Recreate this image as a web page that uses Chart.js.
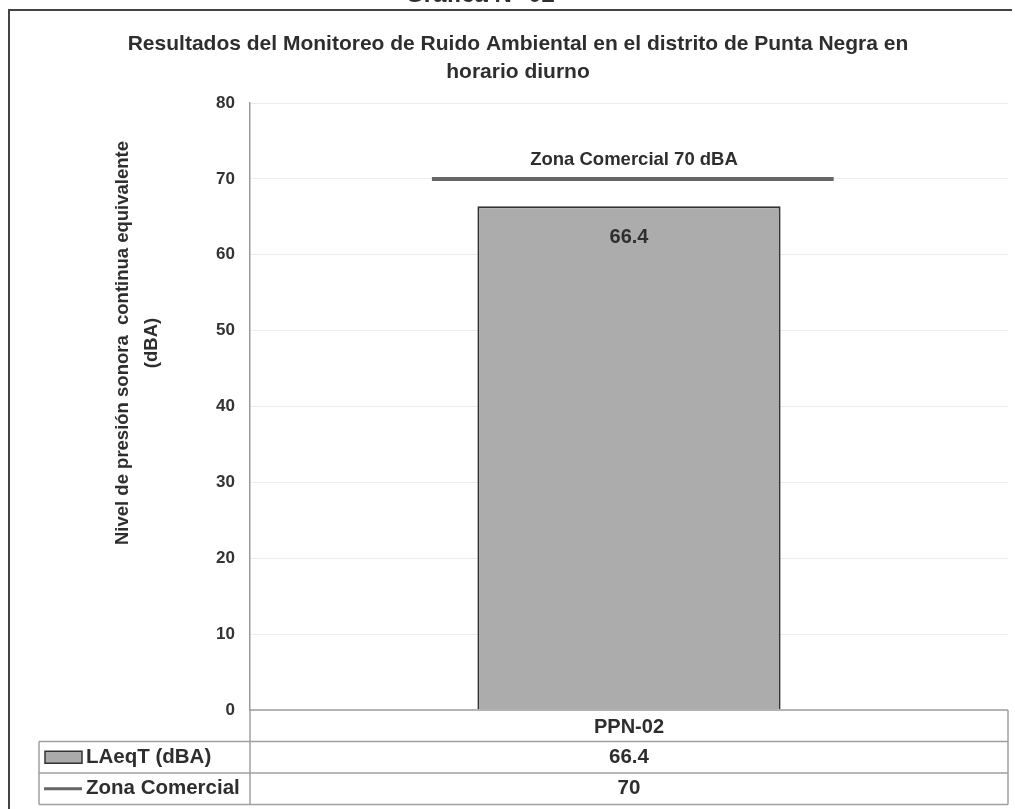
<!DOCTYPE html>
<html>
<head>
<meta charset="utf-8">
<script src="https://cdn.jsdelivr.net/npm/chart.js@4.4.1/dist/chart.umd.min.js"></script>
<style>
  html, body { margin: 0; padding: 0; background: #fff; }
  #wrap { width: 1015px; height: 809px; }
</style>
</head>
<body>
<div id="wrap"><canvas id="ruidoChart" width="1015" height="809"></canvas></div>
<script>
const categories = ['PPN-02'];
const laeqValues = [66.4];
const limitValues = [70];
const seriesNames = ['LAeqT (dBA)', 'Zona Comercial'];
const limitLabel = 'Zona Comercial 70 dBA';
const yMin = 0, yMax = 80, yStep = 10;

const sans = '"Liberation Sans", Arial, sans-serif';
const textColor = '#2e2e2e';

// draws frame, limit line, bar label, axis title and the data table
const extrasPlugin = {
  id: 'extras',
  afterDraw(chart) {
    const ctx = chart.ctx;
    const area = chart.chartArea;
    const x = chart.scales.x;
    const y = chart.scales.y;
    ctx.save();

    // outer frame (left + top)
    ctx.strokeStyle = '#444';
    ctx.lineWidth = 2;
    ctx.beginPath();
    ctx.moveTo(9, 809);
    ctx.lineTo(9, 10);
    ctx.lineTo(1012, 10);
    ctx.stroke();

    // cut-off heading above frame
    ctx.fillStyle = textColor;
    ctx.font = 'bold 24px ' + sans;
    ctx.textAlign = 'center';
    ctx.textBaseline = 'alphabetic';
    ctx.fillText('Gráfica N° 02', 480, 2);

    // y axis title
    ctx.save();
    ctx.translate(123, 343);
    ctx.rotate(-Math.PI / 2);
    ctx.font = 'bold 18.5px ' + sans;
    ctx.textBaseline = 'middle';
    ctx.fillText('Nivel de presión sonora  continua equivalente', 0, 0);
    ctx.fillText('(dBA)', 0, 29);
    ctx.restore();

    // limit line
    const catW = x.width / categories.length;
    limitValues.forEach((v, i) => {
      const cx = x.getPixelForValue(i);
      const py = y.getPixelForValue(v);
      ctx.strokeStyle = '#666';
      ctx.lineWidth = 4;
      ctx.beginPath();
      ctx.moveTo(cx - catW * 0.26, py);
      ctx.lineTo(cx + catW * 0.27, py);
      ctx.stroke();
      ctx.fillStyle = textColor;
      ctx.font = 'bold 18.5px ' + sans;
      ctx.textBaseline = 'middle';
      ctx.fillText(limitLabel, cx + 5, py - 19);
    });

    // bar value labels
    const meta = chart.getDatasetMeta(0);
    meta.data.forEach((bar, i) => {
      ctx.fillStyle = textColor;
      ctx.font = 'bold 20px ' + sans;
      ctx.textBaseline = 'middle';
      ctx.fillText(laeqValues[i].toFixed(1), bar.x, bar.y + 31);
    });

    // data table
    const top = area.bottom;
    const rowH = 31.5;
    const left = 39;
    const right = area.right;
    ctx.strokeStyle = '#a0a0a0';
    ctx.lineWidth = 1.5;
    ctx.beginPath();
    ctx.moveTo(area.left, top); ctx.lineTo(right, top);
    ctx.moveTo(area.left, top); ctx.lineTo(area.left, top + rowH * 3);
    ctx.moveTo(right, top); ctx.lineTo(right, top + rowH * 3);
    for (let r = 1; r <= 3; r++) {
      ctx.moveTo(left, top + rowH * r); ctx.lineTo(right, top + rowH * r);
    }
    ctx.moveTo(left, top + rowH); ctx.lineTo(left, top + rowH * 3);
    ctx.stroke();

    const rows = [laeqValues, limitValues];
    rows.forEach((vals, r) => {
      const cy = top + rowH * (r + 1.5);
      if (r === 0) {
        ctx.fillStyle = '#aaa';
        ctx.strokeStyle = '#333';
        ctx.lineWidth = 1.5;
        ctx.fillRect(45, cy - 6, 37, 12);
        ctx.strokeRect(45, cy - 6, 37, 12);
      } else {
        ctx.strokeStyle = '#666';
        ctx.lineWidth = 3;
        ctx.beginPath();
        ctx.moveTo(44, cy); ctx.lineTo(82, cy);
        ctx.stroke();
      }
      ctx.fillStyle = textColor;
      ctx.font = 'bold 20.5px ' + sans;
      ctx.textAlign = 'left';
      ctx.textBaseline = 'middle';
      ctx.fillText(seriesNames[r], 86, cy);
      ctx.textAlign = 'center';
      vals.forEach((v, i) => {
        ctx.fillText(r === 0 ? v.toFixed(1) : String(v), x.getPixelForValue(i), cy);
      });
    });

    ctx.restore();
  }
};

new Chart(document.getElementById('ruidoChart').getContext('2d'), {
  type: 'bar',
  data: {
    labels: categories,
    datasets: [{
      label: seriesNames[0],
      data: laeqValues,
      backgroundColor: '#acacac',
      borderColor: '#333',
      borderWidth: 2,
      barPercentage: 0.4,
      categoryPercentage: 1
    }]
  },
  options: {
    responsive: false,
    animation: false,
    layout: { padding: { left: 28, right: 7, top: 0, bottom: 0 } },
    plugins: {
      legend: { display: false },
      tooltip: { enabled: false },
      title: {
        display: true,
        text: ['Resultados del Monitoreo de Ruido Ambiental en el distrito de Punta Negra en', 'horario diurno'],
        color: textColor,
        font: { family: sans, size: 21, weight: 'bold', lineHeight: 1.3 },
        padding: { top: 31, bottom: 17.4 }
      }
    },
    scales: {
      x: {
        grid: { display: false, drawTicks: false },
        border: { display: false },
        ticks: { color: textColor, font: { family: sans, size: 20, weight: 'bold' }, padding: 5 },
        afterFit(s) { s.height = 99; }
      },
      y: {
        min: yMin,
        max: yMax,
        ticks: { stepSize: yStep, color: '#333', font: { family: sans, size: 17, weight: 'bold' }, padding: 15 },
        grid: { color: '#ececec', drawTicks: false },
        border: { color: '#999', width: 1.5 },
        afterFit(s) { s.width = 222; }
      }
    }
  },
  plugins: [extrasPlugin]
});
</script>
</body>
</html>
